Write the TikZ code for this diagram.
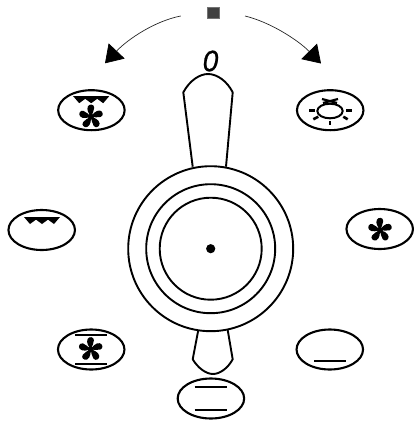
\documentclass[tikz,border=0pt]{standalone}
\usepackage{fontspec}
\setmainfont{Liberation Sans}[ItalicFeatures={FakeBold=0.8}]
\usetikzlibrary{shapes.geometric,arrows.meta}
\tikzset{
  badge/.style={draw=black,line width=2.1pt,ellipse,minimum width=66.5pt,minimum height=40pt,inner sep=0pt},
  dial/.style={draw=black,line width=1.9pt,circle,inner sep=0pt},
  handle/.style={draw=black,line width=1.9pt,line join=round},
  mark line/.style={draw=black,line width=2.2pt},
  ray/.style={draw=black,line width=2.6pt},
  sweep/.style={draw=black!85,line width=0.7pt,-{Triangle[length=17pt,width=22pt,color=black]}},
  fanicon/.pic={
    \foreach \a in {0,72,...,288}
      \fill[black,rotate=\a] (0,0) .. controls (-1.8,-2.5) and (-5,-7) .. (-3,-10.5)
        .. controls (-1.5,-13) and (3.2,-12.8) .. (3.2,-9) .. controls (3.2,-6) and (1.4,-3) .. (0,0);
    \fill[black] (0,0) circle (3);
  },
  vents/.pic={
    \fill[black] (-18,-3.6) -- (18,-3.6) -- (12,3.4) -- (6,-1) -- (0,3.4) -- (-6,-1) -- (-12,3.4) -- cycle;
  }
}
\begin{document}
\begin{tikzpicture}[x=1pt,y=-1pt]
\useasboundingbox (0,0) rectangle (414,421);
% handle
\draw[handle] (192.7,166.7) -- (183.3,92.3) .. controls (190,80) and (200,74) .. (208,74)
  .. controls (217,74) and (227,81) .. (232.7,92.3) -- (226,166.7);
\draw[handle] (198.3,330) -- (192.7,359.3) .. controls (198,368) and (206,374) .. (213,374)
  .. controls (220,374) and (228,368) .. (232.7,359.3) -- (227.7,330);
% dial
\node[dial,minimum size=165pt] (outer) at (210.7,248.7) {};
\node[dial,minimum size=129pt] (mid) at (210.7,248.7) {};
\node[dial,minimum size=102pt] (inner) at (210.7,248.7) {};
\fill[black] (inner.center) circle (4.6);
\node[inner sep=0pt,yscale=1.05] (zero) at (210.5,61) {\fontsize{28}{28}\selectfont\itshape 0};
% top marker and arrows
\node[draw=black!55,fill=black!75,minimum size=11.4pt,inner sep=0pt,line width=0.4pt] (marker) at (213,12.5) {};
\coordinate (lstart) at (180.7,16);
\coordinate (ltip) at (105,63.3);
\coordinate (rstart) at (245,16);
\coordinate (rtip) at (321,63.5);
\draw[sweep] (lstart) .. controls (155,21) and (128,39) .. (ltip);
\draw[sweep] (rstart) .. controls (270,22) and (298,40) .. (rtip);
% badges
\node[badge] (tl) at (91.4,110.2) {};
\node[badge] (tr) at (330.2,110.2) {};
\node[badge] (l) at (41.7,230) {};
\node[badge] (r) at (379.7,229) {};
\node[badge] (bl) at (91.2,349.5) {};
\node[badge] (br) at (329.8,349.5) {};
\node[badge] (b) at (210.9,398.5) {};
% icons
\pic at (91.2,99.8) {vents};
\pic at (91,116.7) {fanicon};
\pic at (42,220.6) {vents};
\pic at (380,230) {fanicon};
\pic at (90.7,349.3) {fanicon};
\draw[mark line] (75,335) -- (107.3,335);
\draw[mark line] (75,363.7) -- (107.3,363.7);
\draw[mark line] (314,361.3) -- (346,361.3);
\draw[mark line] (194.7,386.7) -- (227,386.7);
\draw[mark line] (194.7,410.3) -- (227,410.3);
% lamp
\draw[black,line width=2pt] (330,111) ellipse (12.7 and 7.3);
\draw[ray] (309.3,110.5) -- (315,110.5);
\draw[ray] (346,110.5) -- (352,110.5);
\draw[ray] (330,121) -- (330,125);
\draw[ray] (313.3,119.3) -- (318.3,116.7);
\draw[ray] (343.3,116.7) -- (347.7,119.3);
\draw[black,line width=2.2pt] (322,99) -- (337,103);
\draw[black,line width=2.2pt] (323,103) -- (338,99);
\end{tikzpicture}
\end{document}
